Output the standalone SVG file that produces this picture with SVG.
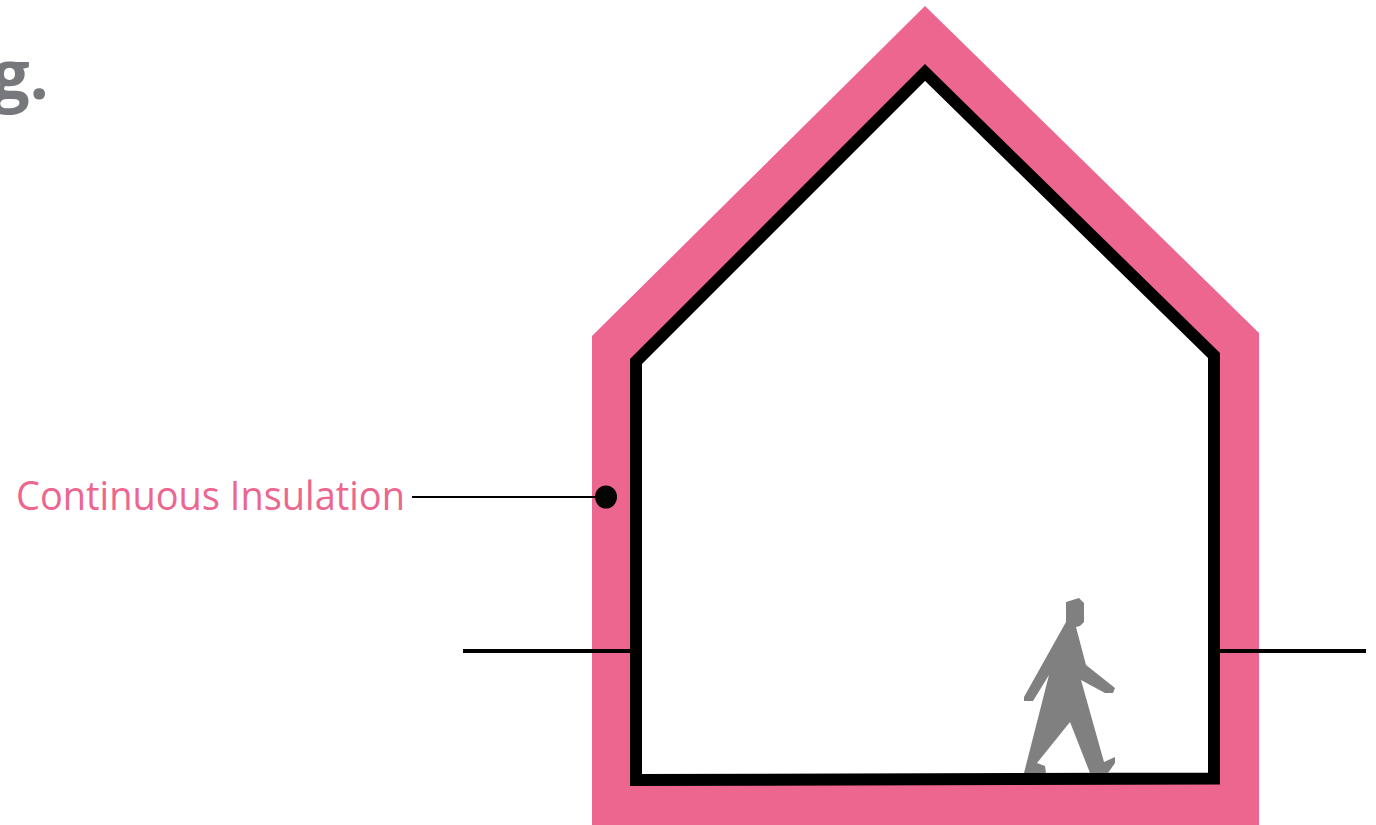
<svg xmlns="http://www.w3.org/2000/svg" width="1376" height="825" viewBox="0 0 1376 825">
<style>
.wall{fill:#fff;stroke:#000;stroke-width:12;stroke-miterlimit:10}
.ground{fill:none;stroke:#000;stroke-width:4}
.leader{fill:none;stroke:#000;stroke-width:2}
</style>
<rect width="1376" height="825" fill="#fff"/>
<text x="49" y="99" text-anchor="end" font-family="'Open Sans','Noto Sans',sans-serif" font-weight="700" font-size="68" fill="#77787b">g.</text>
<g id="insulation"><polygon points="592,336 925,6 1259,333 1259,825 592,825" fill="#ec668f"/></g>
<g id="house"><polygon class="wall" points="636,361.500 925,72.500 1214,355.500 1214,778.500 636,780"/></g>
<g id="person"><polygon fill="#808080" points="1066,602 1079,598 1084,603 1084,622 1080,626 1076,627 1086,665 1115,688 1113,693 1105,693 1081,680 1104,762 1115,757 1115,763 1108,773 1090,773 1070,722 1037,763 1045,766 1046,773 1024,773 1049,675 1033,701 1024,701 1024,697 1066,622"/></g>
<g id="connectors">
<line class="ground" x1="463" y1="651" x2="632" y2="651"/>
<line class="ground" x1="1219" y1="651" x2="1366" y2="651"/>
<line class="leader" x1="412" y1="497" x2="600" y2="497"/>
<ellipse cx="606" cy="497" rx="11" ry="11.500" fill="#050505"/>
</g>
<g id="label"><text x="16" y="510" font-family="'Open Sans','Noto Sans',sans-serif" font-size="41" textLength="389" lengthAdjust="spacingAndGlyphs" fill="#ec668f">Continuous Insulation</text></g>
</svg>
